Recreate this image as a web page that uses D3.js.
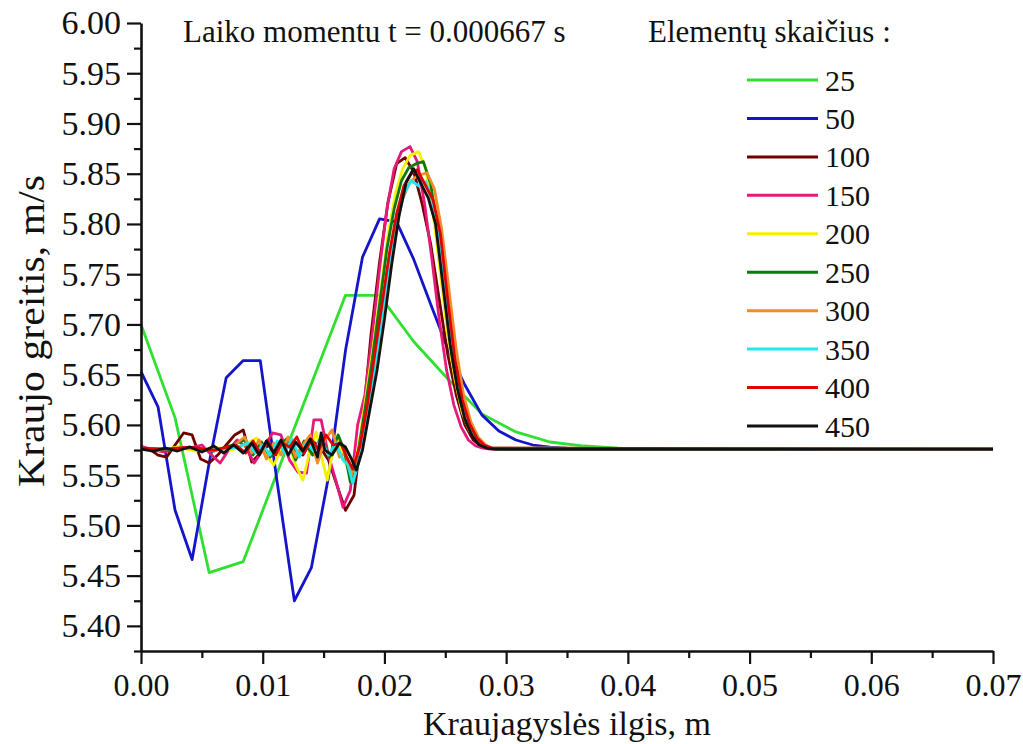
<!DOCTYPE html>
<html>
<head>
<meta charset="utf-8">
<script src="https://cdn.jsdelivr.net/npm/d3@7"></script>
<style>
  html, body { margin: 0; padding: 0; background: #fff; }
  svg { display: block; }
  svg text { font-family: "Liberation Serif", "DejaVu Serif", "Times New Roman", serif !important; fill: #111; }
</style>
</head>
<body>
<svg id="chart" width="1023" height="744"></svg>
<script>
// ---------------- DATA ----------------
const seriesLabels = ["25", "50", "100", "150", "200", "250", "300", "350", "400", "450"];
const seriesColors = ["#2fe02f", "#1414c8", "#700000", "#e6197a", "#f2f200", "#0b7a0b", "#f28c28", "#20e8f0", "#e00000", "#111111"];

const xTickValues = [0, 0.01, 0.02, 0.03, 0.04, 0.05, 0.06, 0.07];
const xTickLabels = ["0.00", "0.01", "0.02", "0.03", "0.04", "0.05", "0.06", "0.07"];
const yTickValues = [5.40, 5.45, 5.50, 5.55, 5.60, 5.65, 5.70, 5.75, 5.80, 5.85, 5.90, 5.95, 6.00];
const yTickLabels = ["5.40", "5.45", "5.50", "5.55", "5.60", "5.65", "5.70", "5.75", "5.80", "5.85", "5.90", "5.95", "6.00"];

const titleText = "Laiko momentu t = 0.000667 s";
const legendTitle = "Elementų skaičius :";
const xAxisTitle = "Kraujagyslės ilgis, m";
const yAxisTitle = "Kraujo greitis, m/s";

// [x (m), velocity (m/s)]
const s25 = [[0,5.700],[0.0028,5.607],[0.0056,5.453],[0.0084,5.464],[0.0112,5.553],[0.0140,5.641],
  [0.0168,5.729],[0.0196,5.729],[0.0224,5.683],[0.0252,5.646],[0.0280,5.611],[0.0308,5.593],
  [0.0336,5.583],[0.0364,5.579],[0.0392,5.577],[0.0420,5.5765],[0.07,5.576]];

const s50 = [[0,5.653],[0.0014,5.618],[0.0028,5.515],[0.0042,5.466],[0.0056,5.562],[0.0070,5.647],
  [0.0084,5.664],[0.0098,5.664],[0.0112,5.542],[0.0126,5.425],[0.0140,5.458],[0.0154,5.548],
  [0.0168,5.674],[0.0182,5.767],[0.0196,5.805],[0.0210,5.802],[0.0224,5.765],[0.0238,5.720],
  [0.0252,5.676],[0.0266,5.640],[0.0280,5.610],[0.0294,5.594],[0.0308,5.585],[0.0322,5.580],
  [0.0336,5.578],[0.0350,5.577],[0.07,5.576]];

const s100 = [[0,5.578],[0.0007,5.576],[0.0014,5.570],[0.0021,5.568],[0.0028,5.580],[0.0035,5.592],
  [0.0042,5.590],[0.0049,5.566],[0.0056,5.562],[0.0063,5.570],[0.0070,5.580],[0.0077,5.590],
  [0.0084,5.595],[0.0091,5.563],[0.0098,5.572],[0.0105,5.580],[0.0112,5.570],[0.0119,5.583],
  [0.0126,5.575],[0.0133,5.570],[0.0140,5.585],[0.0147,5.578],[0.0154,5.565],[0.0161,5.540],
  [0.0168,5.515],[0.0175,5.530],[0.0182,5.600],[0.0189,5.690],[0.0196,5.762],[0.0203,5.822],
  [0.0210,5.860],[0.0217,5.866],[0.0224,5.852],[0.0231,5.820],[0.0238,5.780],[0.0245,5.725],
  [0.0252,5.670],[0.0259,5.630],[0.0266,5.600],[0.0273,5.585],[0.0280,5.578],[0.0287,5.577],
  [0.0294,5.576],[0.07,5.576]];

const s150 = [[0,5.579],[0.0010,5.575],[0.0020,5.573],[0.0030,5.578],[0.0040,5.577],[0.0050,5.580],
  [0.0058,5.570],[0.0065,5.562],[0.0072,5.575],[0.0079,5.585],[0.0086,5.578],[0.0093,5.562],
  [0.0100,5.575],[0.0108,5.592],[0.0115,5.590],[0.0122,5.565],[0.0129,5.553],[0.0136,5.552],
  [0.0142,5.605],[0.0148,5.605],[0.0154,5.570],[0.0160,5.545],[0.0166,5.518],[0.0172,5.535],
  [0.0178,5.600],[0.0184,5.630],[0.0190,5.690],[0.0196,5.755],[0.0202,5.815],[0.0208,5.855],
  [0.0214,5.872],[0.0221,5.877],[0.0227,5.862],[0.0233,5.820],[0.0239,5.765],[0.0245,5.705],
  [0.0251,5.655],[0.0257,5.620],[0.0263,5.598],[0.0269,5.585],[0.0275,5.579],[0.0281,5.577],
  [0.0287,5.576],[0.07,5.576]];

const s200 = [[0,5.577],[0.0015,5.575],[0.0030,5.578],[0.0045,5.574],[0.0060,5.578],[0.0075,5.575],
  [0.0085,5.580],[0.0095,5.587],[0.0102,5.572],[0.0109,5.560],[0.0115,5.575],[0.0120,5.587],
  [0.0127,5.560],[0.0133,5.545],[0.0139,5.575],[0.0144,5.593],[0.0148,5.570],[0.0153,5.545],
  [0.0157,5.570],[0.0161,5.588],[0.0167,5.565],[0.0173,5.548],[0.0179,5.580],[0.0185,5.630],
  [0.0191,5.680],[0.0197,5.735],[0.0203,5.790],[0.0209,5.830],[0.0215,5.855],[0.0221,5.868],
  [0.0228,5.872],[0.0234,5.855],[0.0240,5.810],[0.0246,5.750],[0.0252,5.690],[0.0258,5.645],
  [0.0264,5.612],[0.0270,5.594],[0.0276,5.584],[0.0282,5.579],[0.0288,5.577],[0.07,5.576]];

const s250 = [[0,5.577],[0.0020,5.575],[0.0040,5.577],[0.0060,5.574],[0.0075,5.580],[0.0085,5.585],
  [0.0092,5.570],[0.0099,5.583],[0.0106,5.568],[0.0113,5.580],[0.0120,5.586],[0.0127,5.565],
  [0.0134,5.584],[0.0141,5.570],[0.0148,5.588],[0.0155,5.568],[0.0162,5.590],[0.0167,5.575],
  [0.0172,5.543],[0.0178,5.570],[0.0184,5.615],[0.0190,5.665],[0.0196,5.720],[0.0202,5.775],
  [0.0208,5.815],[0.0214,5.843],[0.0220,5.856],[0.0226,5.860],[0.0232,5.862],[0.0238,5.840],
  [0.0244,5.790],[0.0250,5.725],[0.0256,5.665],[0.0262,5.625],[0.0268,5.601],[0.0274,5.587],
  [0.0280,5.580],[0.0286,5.577],[0.0292,5.576],[0.07,5.576]];

const s300 = [[0,5.577],[0.0020,5.576],[0.0040,5.577],[0.0060,5.575],[0.0075,5.578],[0.0085,5.588],
  [0.0091,5.572],[0.0097,5.585],[0.0103,5.566],[0.0109,5.582],[0.0115,5.570],[0.0121,5.588],
  [0.0127,5.568],[0.0133,5.580],[0.0139,5.590],[0.0145,5.562],[0.0151,5.585],[0.0157,5.595],
  [0.0163,5.568],[0.0168,5.572],[0.0173,5.550],[0.0179,5.575],[0.0185,5.610],[0.0191,5.655],
  [0.0197,5.705],[0.0203,5.755],[0.0209,5.795],[0.0215,5.825],[0.0221,5.842],[0.0227,5.848],
  [0.0235,5.851],[0.0241,5.835],[0.0247,5.795],[0.0253,5.735],[0.0259,5.675],[0.0265,5.630],
  [0.0271,5.603],[0.0277,5.588],[0.0283,5.580],[0.0289,5.577],[0.07,5.576]];

const s350 = [[0,5.577],[0.0020,5.576],[0.0040,5.577],[0.0060,5.575],[0.0080,5.578],[0.0088,5.582],
  [0.0094,5.572],[0.0100,5.580],[0.0106,5.570],[0.0112,5.584],[0.0118,5.572],[0.0124,5.586],
  [0.0130,5.568],[0.0136,5.582],[0.0142,5.574],[0.0148,5.586],[0.0154,5.570],[0.0160,5.582],
  [0.0166,5.565],[0.0170,5.560],[0.0174,5.542],[0.0180,5.568],[0.0186,5.605],[0.0192,5.655],
  [0.0198,5.705],[0.0204,5.755],[0.0210,5.800],[0.0216,5.830],[0.0222,5.843],[0.0228,5.838],
  [0.0234,5.842],[0.0240,5.820],[0.0246,5.775],[0.0252,5.715],[0.0258,5.660],[0.0264,5.622],
  [0.0270,5.600],[0.0276,5.587],[0.0282,5.580],[0.0288,5.577],[0.07,5.576]];

const s400 = [[0,5.577],[0.0020,5.576],[0.0040,5.578],[0.0060,5.575],[0.0078,5.580],[0.0086,5.572],
  [0.0092,5.584],[0.0098,5.572],[0.0104,5.585],[0.0110,5.570],[0.0116,5.582],[0.0122,5.578],
  [0.0128,5.588],[0.0134,5.572],[0.0140,5.586],[0.0146,5.575],[0.0152,5.590],[0.0158,5.580],
  [0.0164,5.582],[0.0169,5.568],[0.0174,5.556],[0.0180,5.580],[0.0186,5.620],[0.0192,5.670],
  [0.0198,5.720],[0.0204,5.770],[0.0210,5.810],[0.0216,5.838],[0.0222,5.850],[0.0227,5.854],
  [0.0233,5.840],[0.0240,5.824],[0.0246,5.790],[0.0252,5.725],[0.0258,5.665],[0.0264,5.625],
  [0.0270,5.601],[0.0276,5.587],[0.0282,5.580],[0.0288,5.577],[0.07,5.576]];

const s450 = [[0,5.576],[0.0010,5.574],[0.0020,5.577],[0.0030,5.574],[0.0040,5.578],[0.0050,5.573],
  [0.0060,5.579],[0.0068,5.572],[0.0076,5.580],[0.0084,5.572],[0.0091,5.582],[0.0097,5.570],
  [0.0103,5.584],[0.0109,5.572],[0.0115,5.585],[0.0121,5.570],[0.0127,5.583],[0.0133,5.574],
  [0.0139,5.586],[0.0145,5.568],[0.0148,5.592],[0.0151,5.575],[0.0157,5.570],[0.0163,5.582],
  [0.0168,5.578],[0.0173,5.566],[0.0177,5.555],[0.0182,5.575],[0.0188,5.615],[0.0194,5.655],
  [0.0200,5.705],[0.0206,5.760],[0.0212,5.808],[0.0218,5.842],[0.0224,5.855],[0.0230,5.840],
  [0.0236,5.826],[0.0242,5.800],[0.0248,5.740],[0.0254,5.680],[0.0260,5.636],[0.0266,5.606],
  [0.0272,5.589],[0.0278,5.580],[0.0284,5.577],[0.0290,5.576],[0.07,5.576]];

const allSeries = [s25, s50, s100, s150, s200, s250, s300, s350, s400, s450];

// ---------------- CHART ----------------
const FONT = '"Liberation Serif", "DejaVu Serif", "Times New Roman", serif';
const svg = d3.select("#chart");
const x = d3.scaleLinear().domain([0, 0.07]).range([141, 993]);
const y = d3.scaleLinear().domain([5.375, 6.00]).range([651, 23]);

// lines
const line = d3.line().x(d => x(d[0])).y(d => y(d[1]));
const plot = svg.append("g");
allSeries.forEach((s, i) => {
  plot.append("path")
    .datum(s)
    .attr("fill", "none")
    .attr("stroke", seriesColors[i])
    .attr("stroke-width", 2.8)
    .attr("stroke-linejoin", "round")
    .attr("d", line);
});

// axes
const xMinor = d3.range(0.005, 0.07, 0.01);
const yMinor = d3.range(5.375, 6.0, 0.05);

const gx = svg.append("g").attr("transform", `translate(0,${y(5.375)})`);
gx.call(d3.axisBottom(x).tickValues(xTickValues).tickFormat((d, i) => xTickLabels[i]).tickSize(13).tickSizeOuter(0).tickPadding(9));
gx.append("g").call(d3.axisBottom(x).tickValues(xMinor).tickFormat("").tickSize(7).tickSizeOuter(0))
  .select(".domain").remove();

const gy = svg.append("g").attr("transform", `translate(${x(0)},0)`);
gy.call(d3.axisLeft(y).tickValues(yTickValues).tickFormat((d, i) => yTickLabels[i]).tickSize(14).tickSizeOuter(0).tickPadding(6));
gy.append("g").call(d3.axisLeft(y).tickValues(yMinor).tickFormat("").tickSize(7).tickSizeOuter(0))
  .select(".domain").remove();

svg.selectAll("g").attr("font-family", FONT);
svg.selectAll(".domain").attr("stroke", "#111").attr("stroke-width", 2.6);
svg.selectAll(".tick line").attr("stroke", "#111").attr("stroke-width", 2.2);
gx.selectAll(".tick text").attr("font-family", FONT).attr("font-size", 32).attr("fill", "#111");
gy.selectAll(".tick text").attr("font-family", FONT).attr("font-size", 34).attr("fill", "#111");

// titles
function addText(sel) { return sel.attr("font-family", FONT).attr("fill", "#111"); }
addText(svg.append("text")).attr("x", 567).attr("y", 735).attr("text-anchor", "middle")
  .attr("font-size", 34).text(xAxisTitle);
addText(svg.append("text")).attr("transform", `translate(44,331) rotate(-90)`).attr("text-anchor", "middle")
  .attr("font-size", 38).attr("textLength", 312).attr("lengthAdjust", "spacingAndGlyphs").text(yAxisTitle);
addText(svg.append("text")).attr("x", 183).attr("y", 42).attr("font-size", 31).text(titleText);

// legend
const lg = svg.append("g");
addText(lg.append("text")).attr("x", 648).attr("y", 42).attr("font-size", 31).text(legendTitle);
const ly = d3.scaleLinear().domain([0, 9]).range([80, 426]);
seriesLabels.forEach((lab, i) => {
  lg.append("line").attr("x1", 747).attr("x2", 818).attr("y1", ly(i)).attr("y2", ly(i))
    .attr("stroke", seriesColors[i]).attr("stroke-width", 3);
  addText(lg.append("text")).attr("x", 825).attr("y", ly(i)).attr("dy", "0.35em")
    .attr("font-size", 30).text(lab);
});
</script>
</body>
</html>
